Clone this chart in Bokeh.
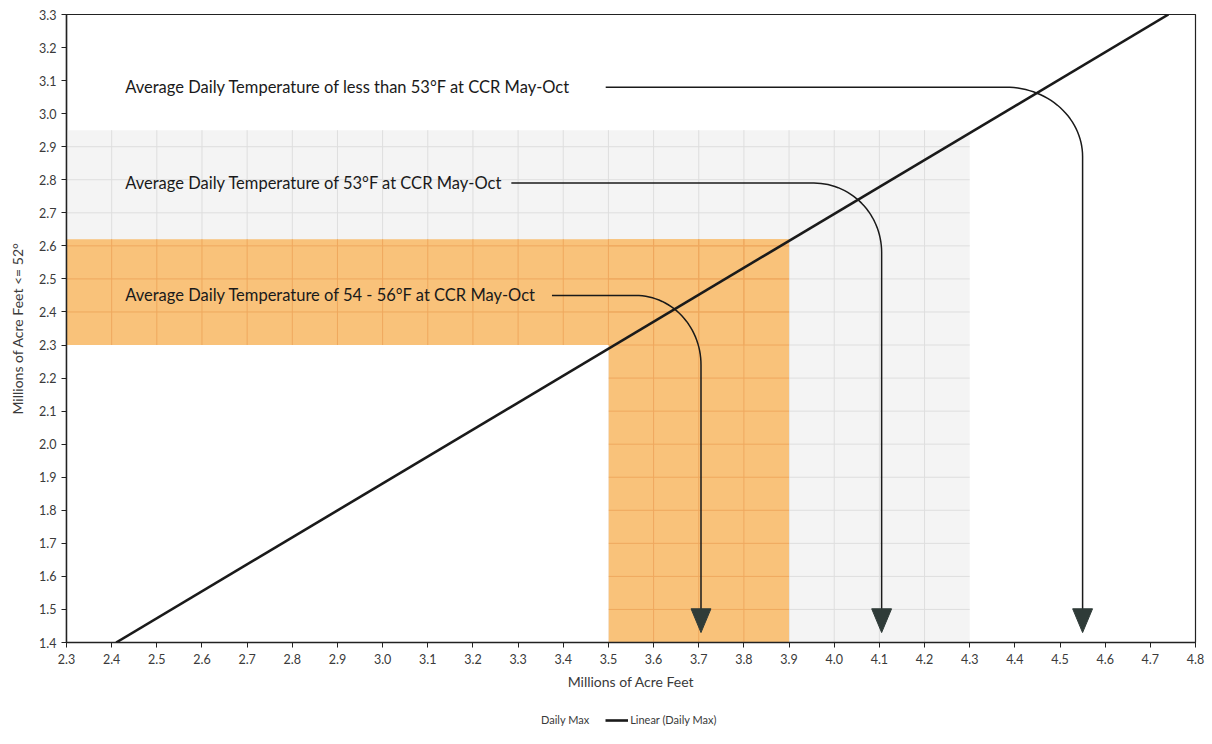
import math
from bokeh.plotting import figure
from bokeh.layouts import column
from bokeh.models import FixedTicker, Legend, LegendItem, Range1d, NumeralTickFormatter
from bokeh.core.properties import value
from bokeh.embed import file_html
from bokeh.resources import INLINE

# ---------------- data ----------------
x_ticks = [2.3, 2.4, 2.5, 2.6, 2.7, 2.8, 2.9, 3.0, 3.1, 3.2, 3.3, 3.4, 3.5,
           3.6, 3.7, 3.8, 3.9, 4.0, 4.1, 4.2, 4.3, 4.4, 4.5, 4.6, 4.7, 4.8]
y_ticks = [1.4, 1.5, 1.6, 1.7, 1.8, 1.9, 2.0, 2.1, 2.2, 2.3, 2.4, 2.5, 2.6,
           2.7, 2.8, 2.9, 3.0, 3.1, 3.2, 3.3]

# Linear trend (Daily Max)
trend_x = [2.41, 4.74]
trend_y = [1.40, 3.30]

# shaded zones  (x0, x1, y0, y1)
grey_zone = [2.3, 4.3, 1.4, 2.95]
orange_h = [2.3, 3.9, 2.3, 2.62]
orange_v = [3.5, 3.9, 1.4, 2.62]
blank_zone = [2.3, 3.5, 1.4, 2.3]

# annotations
labels = ["Average Daily Temperature of less than 53°F at CCR May-Oct",
          "Average Daily Temperature of 53°F at CCR May-Oct",
          "Average Daily Temperature of 54 - 56°F at CCR May-Oct"]
label_x = [2.43, 2.43, 2.43]
label_y = [3.08, 2.79, 2.45]
leader_start_x = [3.494, 3.285, 3.375]
arrow_x = [4.55, 4.105, 3.705]
arrow_tip_y = 1.43

legend_labels = ["Daily Max", "Linear (Daily Max)"]

# ---------------- figure ----------------
p = figure(frame_width=1129, frame_height=628, output_backend="svg", toolbar_location=None,
           x_range=Range1d(2.3, 4.8), y_range=Range1d(1.4, 3.3),
           min_border_left=66, min_border_right=12, min_border_top=14,
           min_border_bottom=60)
p.outline_line_color = "#222222"
p.outline_line_width = 1.2
p.grid.visible = False
p.background_fill_color = "white"


def grid_segments(zone):
    x0, x1, y0, y1 = zone
    sx0, sy0, sx1, sy1 = [], [], [], []
    for gx in x_ticks:
        if x0 < gx < x1:
            sx0.append(gx); sx1.append(gx); sy0.append(y0); sy1.append(y1)
    for gy in y_ticks:
        if y0 < gy < y1:
            sx0.append(x0); sx1.append(x1); sy0.append(gy); sy1.append(gy)
    return sx0, sy0, sx1, sy1


def zone_rect(zone, color, line_color=None):
    x0, x1, y0, y1 = zone
    p.quad(left=[x0], right=[x1], bottom=[y0], top=[y1], fill_color=color,
           line_color=line_color, line_width=1)


# grey gridded zone
zone_rect(grey_zone, "#f4f4f4")
gx0, gy0, gx1, gy1 = grid_segments(grey_zone)
p.segment(x0=gx0, y0=gy0, x1=gx1, y1=gy1, line_color="#dedede", line_width=1)

# orange zones
for z in (orange_h, orange_v):
    zone_rect(z, "#f9c27a", None)
for z in (orange_h, orange_v):
    ox0, oy0, ox1, oy1 = grid_segments(z)
    p.segment(x0=ox0, y0=oy0, x1=ox1, y1=oy1, line_color="#efa85e", line_width=1)

# white (no data) zone
zone_rect(blank_zone, "white")

# trend line
p.line(trend_x, trend_y, line_color="#1a1a1a", line_width=2.6)

# leader lines with rounded elbows
rx_list = [0.17, 0.15, 0.145]
ry_list = [0.21, 0.21, 0.21]
xs, ys = [], []
for sx, ly, ax, rx, ry in zip(leader_start_x, label_y, arrow_x, rx_list, ry_list):
    cx, cy = ax - rx, ly - ry
    px_, py_ = [sx], [ly]
    for k in range(31):
        t = (math.pi / 2) * k / 30
        px_.append(cx + rx * math.sin(t))
        py_.append(cy + ry * math.cos(t))
    px_.append(ax)
    py_.append(arrow_tip_y + 0.06)
    xs.append(px_)
    ys.append(py_)
p.multi_line(xs, ys, line_color="#1a1a1a", line_width=1.5)

# arrow heads
hw, hh = 0.022, 0.072
p.patches([[ax - hw, ax + hw, ax] for ax in arrow_x],
          [[arrow_tip_y + hh, arrow_tip_y + hh, arrow_tip_y] for ax in arrow_x],
          fill_color="#2f3b38", line_color="#2f3b38")

# labels
p.text(x=label_x, y=label_y, text=labels, text_baseline="middle", text_align="left",
       text_font=value("Lato"), text_font_size="16.5px", text_color="#1a1a1a")

# ---------------- axes ----------------
for ax_, ticks in ((p.xaxis, x_ticks), (p.yaxis, y_ticks)):
    ax_.ticker = FixedTicker(ticks=ticks)
    ax_.formatter = NumeralTickFormatter(format="0.0")
    ax_.minor_tick_line_color = None
    ax_.major_tick_in = 0
    ax_.major_tick_out = 5
    ax_.major_tick_line_color = "#222222"
    ax_.axis_line_color = "#222222"
    ax_.axis_line_width = 1.5
    ax_.major_label_text_font = "Lato"
    ax_.major_label_text_font_size = "12.5px"
    ax_.major_label_text_color = "#3a3a3a"
    ax_.axis_label_text_font = "Lato"
    ax_.axis_label_text_font_size = "14px"
    ax_.axis_label_text_font_style = "normal"
    ax_.axis_label_text_color = "#3a3a3a"

p.xaxis.axis_label = "Millions of Acre Feet"
p.yaxis.axis_label = "Millions of Acre Feet <= 52°"
p.xaxis.axis_label_standoff = 6
p.yaxis.axis_label_standoff = 10
p.xaxis.major_label_standoff = 6

# ---------------- legend strip (separate svg figure) ----------------
lg = figure(width=1207, height=26, output_backend="svg", toolbar_location=None,
            x_range=Range1d(0, 1), y_range=Range1d(0, 1),
            min_border_left=0, min_border_right=0, min_border_top=0, min_border_bottom=0)
lg.axis.visible = False
lg.grid.visible = False
lg.outline_line_color = None
# series renderers for the legend (their data lie outside this strip's ranges)
r_pts = lg.scatter(x=trend_x, y=trend_y, size=6, fill_alpha=0, line_alpha=0)
r_lin = lg.line(x=trend_x, y=trend_y, line_color="#1a1a1a", line_width=2.6)
legend = Legend(items=[LegendItem(label=legend_labels[0], renderers=[r_pts]),
                       LegendItem(label=legend_labels[1], renderers=[r_lin])],
                orientation="horizontal", location=(450, 2),
                border_line_color=None, background_fill_alpha=0,
                label_text_font="Lato", label_text_font_size="11px",
                label_text_color="#3a3a3a", glyph_width=23, glyph_height=10,
                spacing=16, label_standoff=2, margin=0, padding=4)
lg.add_layout(legend, "center")

open("out.html", "w").write(file_html(column(p, lg, spacing=0), INLINE))
